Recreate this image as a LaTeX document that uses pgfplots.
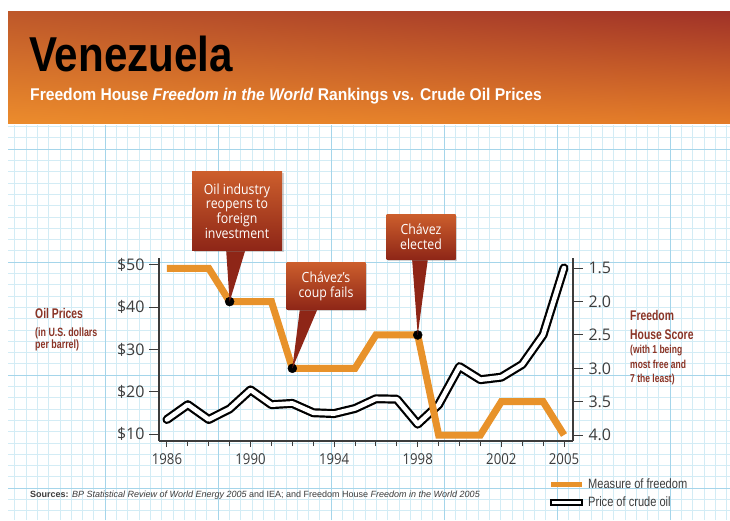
\documentclass[border=0pt]{standalone}
\usepackage{fontspec}
\setmainfont{Liberation Sans}
\newfontfamily\titlef[FakeStretch=0.86]{Liberation Sans}
\newfontfamily\subf[FakeStretch=0.92]{Liberation Sans}
\newfontfamily\cond[FakeStretch=0.82]{Liberation Sans}
\newfontfamily\condb[FakeStretch=0.74]{Liberation Sans Bold}
\newfontfamily\myr[FakeStretch=0.88]{Open Sans}
\newfontfamily\myrw{Open Sans}
\usepackage{pgfplots}
\pgfplotsset{compat=1.18}
\usepackage{pgfplotstable}
\usetikzlibrary{shadows,shadings}

\definecolor{frorange}{HTML}{E8922A}
\definecolor{labred}{HTML}{8A3426}
\definecolor{gridmin}{HTML}{D3ECF5}
\definecolor{gridmaj}{HTML}{A5D5EA}
\definecolor{boxtop}{HTML}{CC5E2C}
\definecolor{boxbot}{HTML}{8E2617}
\definecolor{tickgray}{HTML}{3C3C3C}
\definecolor{hdrul}{HTML}{BE582A}
\definecolor{hdrur}{HTML}{A03228}
\definecolor{hdrll}{HTML}{EC8C2C}
\definecolor{hdrlr}{HTML}{E47C28}

% crude oil price, US$ per barrel
\pgfplotstableread{
year price
1986 13.5
1987 17.0
1988 13.5
1989 16.0
1990 20.5
1991 17.0
1992 17.3
1993 15.1
1994 14.9
1995 16.1
1996 18.4
1997 18.3
1998 12.4
1999 17.0
2000 26.0
2001 22.9
2002 23.5
2003 26.5
2004 33.5
2005 49.3
}\oil

% Freedom House score (1 = most free)
\pgfplotstableread{
year score
1986 1.5
1988 1.5
1989 2.0
1991 2.0
1992 3.0
1995 3.0
1996 2.5
1998 2.5
1999 4.0
2001 4.0
2002 3.5
2004 3.5
2005 4.0
}\freedom

\pgfplotsset{panel/.style={
  at={(159pt,79pt)}, anchor=south west,
  scale only axis, width=414pt, height=183pt,
  xmin=1985.62, xmax=2005.43,
  axis line style={-, tickgray, line width=1.1pt},
  tick align=outside,
  tick style={tickgray, line width=1pt},
  clip=false}}

\begin{document}
\begin{tikzpicture}[x=1pt,y=1pt]
\path[use as bounding box, fill=white] (0,0) rectangle (730,520);

% graph paper
\foreach \k in {-8,...,55} {
  \draw[gridmin, line width=0.5pt] ({105+11.3*\k},0) -- ({105+11.3*\k},395);
}
\foreach \k in {-2,...,32} {
  \draw[gridmin, line width=0.5pt] (8,{371-11.3*\k}) -- (730,{371-11.3*\k});
}
\foreach \k in {0,10,20,30,40,50} {
  \draw[gridmaj, line width=0.8pt] ({105+11.3*\k},0) -- ({105+11.3*\k},395);
}
\foreach \k in {0,10,20,30} {
  \draw[gridmaj, line width=0.8pt] (8,{371-11.3*\k}) -- (730,{371-11.3*\k});
}

% header band
\shade[upper left=hdrul, upper right=hdrur, lower left=hdrll, lower right=hdrlr]
  (8,396) rectangle (730,508);
\node[anchor=base west, inner sep=0, font=\titlef\bfseries\fontsize{49}{49}\selectfont]
  at (29,448) {Venezuela};
\node[anchor=base west, inner sep=0, text=white, font=\subf\bfseries\fontsize{17}{18}\selectfont]
  at (30,419) {Freedom House \textit{Freedom in the World} Rankings vs. Crude Oil Prices};

% year axis
\begin{axis}[panel, ymin=0, ymax=1,
  axis x line*=bottom, axis y line=none,
  major tick length=6pt, minor tick length=5pt,
  xtick={1986,1990,1994,1998,2002,2005},
  xticklabels={1986,1990,1994,1998,2002,2005},
  minor xtick={1987,1988,1989,1991,1992,1993,1995,1996,1997,1999,2000,2001,2003,2004},
  xticklabel style={font=\myr\fontsize{15}{15}\selectfont, text=tickgray, yshift=-3pt},
]
\end{axis}

% oil prices, left axis
\begin{axis}[panel, ymin=8.42, ymax=51.65,
  axis x line=none, axis y line*=left,
  major tick length=10pt,
  ytick={10,20,30,40,50},
  yticklabels={\$10,\$20,\$30,\$40,\$50},
  yticklabel style={font=\myrw\fontsize{16}{16}\selectfont, text=tickgray, xshift=-1pt},
]
\addplot[black, line width=9pt, line join=round, line cap=round] table[x=year, y=price] {\oil};
\addplot[white, line width=4.6pt, line join=round, line cap=round] table[x=year, y=price] {\oil};
\end{axis}

% freedom score, right axis
\begin{axis}[panel, ymin=1.346, ymax=4.09, y dir=reverse,
  axis x line=none, axis y line*=right,
  major tick length=10pt,
  ytick={1.5,2.0,2.5,3.0,3.5,4.0},
  yticklabels={1.5,2.0,2.5,3.0,3.5,4.0},
  yticklabel style={font=\myrw\fontsize{16}{16}\selectfont, text=tickgray, xshift=2pt},
]
\addplot[frorange, line width=7pt] table[x=year, y=score] {\freedom};
\addplot[only marks, mark=*, mark size=4.5pt, black] coordinates {(1989,2.0) (1992,3.0) (1998,2.5)};
\coordinate (p89) at (axis cs:1989,2.0);
\coordinate (p92) at (axis cs:1992,3.0);
\coordinate (p98) at (axis cs:1998,2.5);
\end{axis}

% axis titles
\begin{scope}[every node/.style={anchor=base west, inner sep=0, text=labred}]
\node[font=\condb\fontsize{14}{14}\selectfont] at (35,202) {Oil Prices};
\node[font=\condb\fontsize{12}{12}\selectfont] at (35,184) {(in U.S. dollars};
\node[font=\condb\fontsize{12}{12}\selectfont] at (35,172) {per barrel)};
\node[font=\condb\fontsize{14}{14}\selectfont] at (630,200) {Freedom};
\node[font=\condb\fontsize{14}{14}\selectfont] at (630,181) {House Score};
\node[font=\condb\fontsize{11.5}{12}\selectfont] at (630,167) {(with 1 being};
\node[font=\condb\fontsize{11.5}{12}\selectfont] at (630,152) {most free and};
\node[font=\condb\fontsize{11.5}{12}\selectfont] at (630,138) {7 the least)};
\end{scope}

% callouts
\tikzset{callout/.style={top color=boxtop, bottom color=boxbot, text=white, align=center,
  inner sep=0, font=\myr\fontsize{14}{14.8}\selectfont,
  drop shadow={opacity=0.35, shadow xshift=1.5pt, shadow yshift=-1.5pt}}}
\fill[boxbot] (226,272) -- (246,272) -- (p89) -- cycle;
\node[callout, minimum width=90pt, minimum height=78pt] at (237,309)
  {Oil industry\\reopens to\\foreign\\investment};
\fill[boxbot] (300,212) -- (318,212) -- (p92) -- cycle;
\node[callout, minimum width=79pt, minimum height=47pt] at (326,234)
  {Chávez’s\\coup fails};
\fill[boxbot] (412,262) -- (428,262) -- (p98) -- cycle;
\node[callout, minimum width=69pt, minimum height=45pt] at (421,283)
  {Chávez\\elected};

% legend
\fill[frorange] (551,33) rectangle (582,38);
\draw[black, line width=1.2pt, fill=white] (551,15) rectangle (582,20);
\node[anchor=base west, inner sep=0, text=tickgray, font=\cond\fontsize{13.5}{14}\selectfont]
  at (588,32) {Measure of freedom};
\node[anchor=base west, inner sep=0, text=tickgray, font=\cond\fontsize{13.5}{14}\selectfont]
  at (588,14) {Price of crude oil};

% sources
\node[anchor=base west, inner sep=0, text=tickgray, font=\fontsize{9}{10}\selectfont]
  at (30,23) {\textbf{Sources:} \textit{BP Statistical Review of World Energy 2005} and IEA; and Freedom House \textit{Freedom in the World 2005}};
\end{tikzpicture}
\end{document}
